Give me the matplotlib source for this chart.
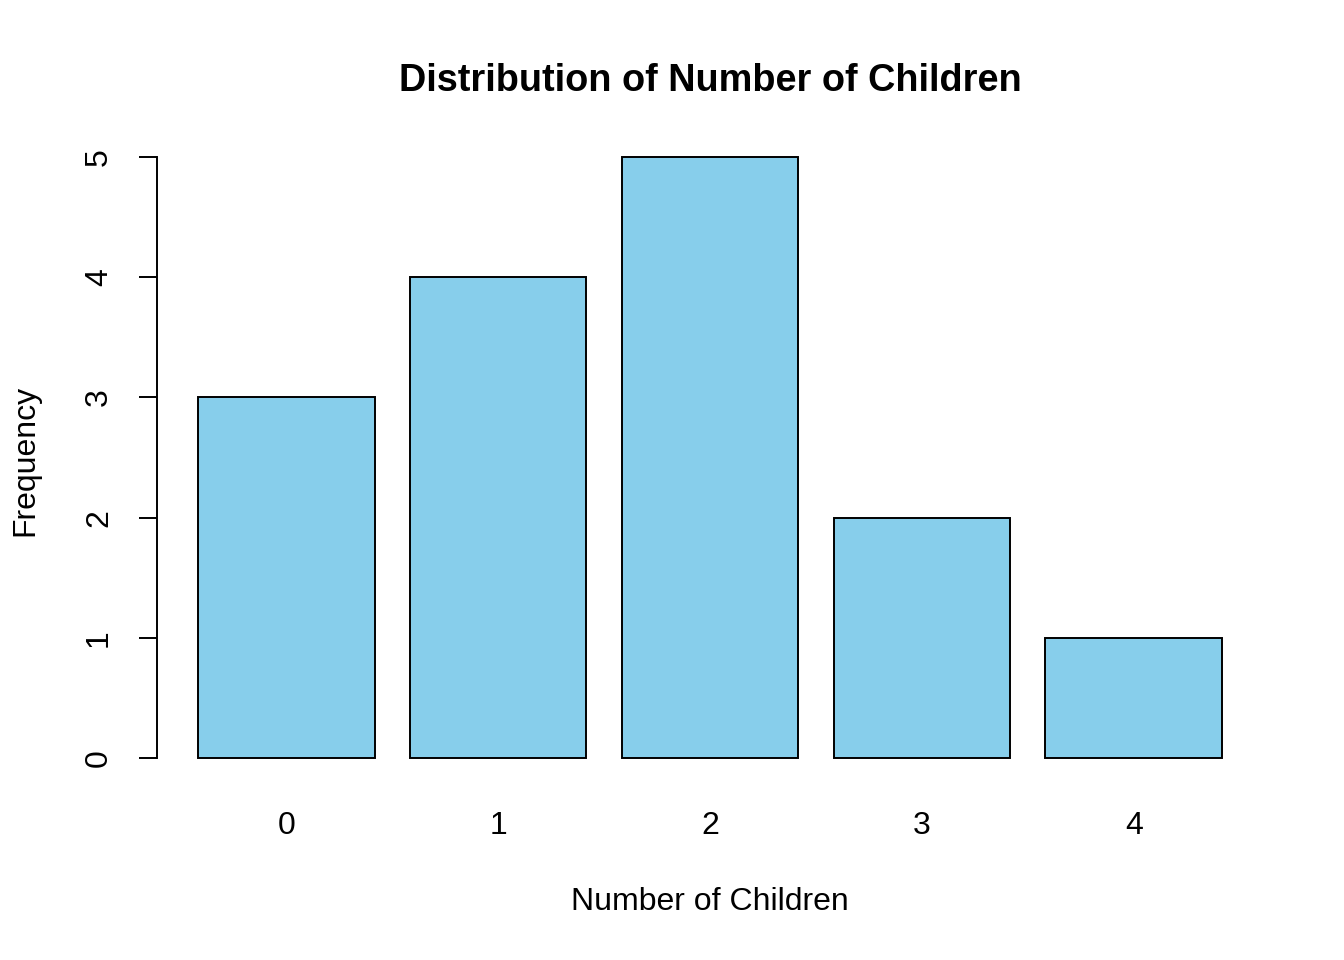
import matplotlib
matplotlib.use("Agg")
import matplotlib.pyplot as plt

categories = ["0", "1", "2", "3", "4"]
frequencies = [3, 4, 5, 2, 1]
yticks = [0, 1, 2, 3, 4, 5]

plt.rcParams['font.family'] = ['Liberation Sans', 'DejaVu Sans']

fig = plt.figure(figsize=(13.44, 9.6), dpi=100)
ax = fig.add_axes([157/1344, 1-782/960, (1263-157)/1344, (782-133)/960])

width = 1.0
space = 0.2
lefts = [space + i * (width + space) for i in range(len(categories))]
centers = [l + width / 2 for l in lefts]
ax.bar(centers, frequencies, width=width, color='#87CEEB', edgecolor='black', linewidth=1.4)

xmin, xmax = lefts[0], lefts[-1] + width
pad = 0.04 * (xmax - xmin)
ax.set_xlim(xmin - pad, xmax + pad)
ax.set_ylim(-0.2, 5.2)

for s in ['top', 'right', 'bottom']:
    ax.spines[s].set_visible(False)
ax.spines['left'].set_bounds(0, 5)
ax.spines['left'].set_linewidth(1.4)

ax.set_yticks(yticks)
ax.set_yticklabels([str(v) for v in yticks], rotation=90, va='center', fontsize=23)
ax.tick_params(axis='y', length=13, width=1.4, pad=18)
ax.set_xticks(centers)
ax.set_xticklabels(categories, fontsize=23)
ax.tick_params(axis='x', length=0, pad=21)

fig.text(710/1344, 1-81/960, "Distribution of Number of Children", ha='center', va='center',
         fontsize=27.3, fontweight='bold')
fig.text(710/1344, 1-902/960, "Number of Children", ha='center', va='center', fontsize=23)
fig.text(25/1344, 1-460/960, "Frequency", ha='center', va='center', rotation=90, fontsize=23)

fig.savefig("out.png", dpi=100)
